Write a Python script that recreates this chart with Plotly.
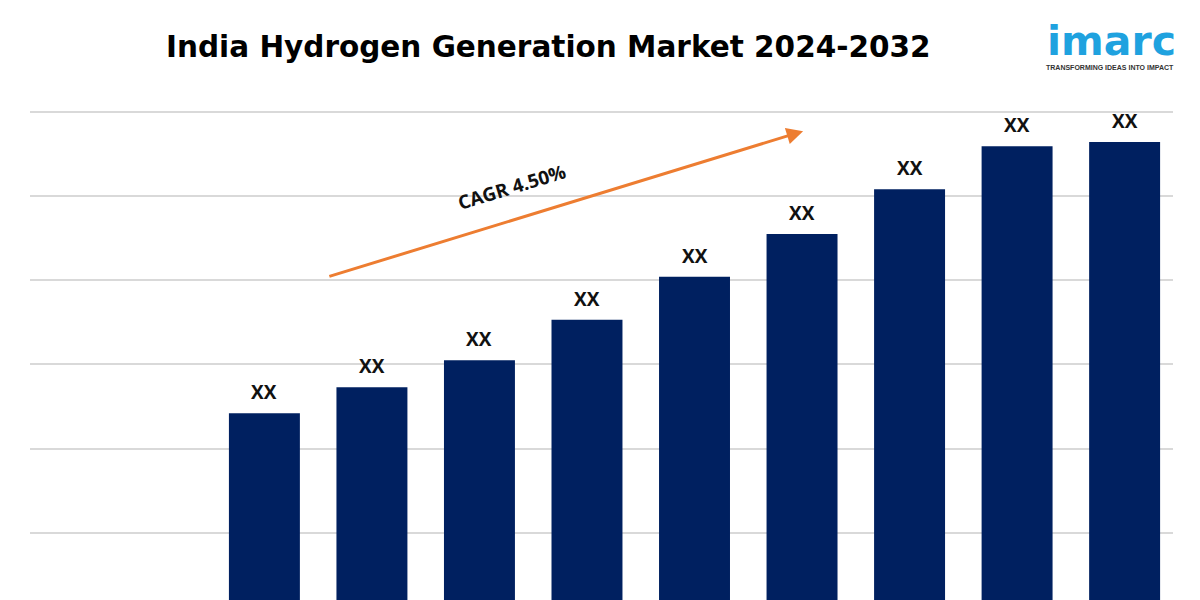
import plotly.graph_objects as go

years = ["2024", "2025", "2026", "2027", "2028", "2029", "2030", "2031", "2032"]
values = [2.42, 2.73, 3.05, 3.53, 4.04, 4.55, 5.08, 5.59, 5.64]
labels = ["XX"] * len(years)

title_text = "India Hydrogen Generation Market 2024-2032"
cagr_text = "CAGR 4.50%"
logo_text = "imarc"
tagline_text = "TRANSFORMING IDEAS INTO IMPACT"

BAR_COLOR = "#002060"
ARROW_COLOR = "#ED7D31"
LOGO_COLOR = "#1FA2DF"

W, H = 1200, 600
OFF = 8  # page body margin offset of the figure in the browser


def px(X, Y):
    """screen pixel -> paper coords (compensating the body margin)"""
    return (X - OFF) / W, 1 - (Y - OFF) / H


fig = go.Figure()
idx = list(range(len(years)))
fig.add_trace(go.Bar(
    x=idx, y=values, marker=dict(color=BAR_COLOR, line=dict(width=0)),
    width=0.66, hoverinfo="skip",
))

# value labels
for i, v, lab in zip(idx, values, labels):
    fig.add_annotation(x=i, y=v, text="<b>" + lab + "</b>", showarrow=False,
                       xanchor="center", yanchor="bottom", yshift=6,
                       font=dict(family="Open Sans", size=19, color="#111111"))

# CAGR arrow
fig.add_annotation(x=5.01, y=5.77, ax=0.59, ay=4.04, xref="x", yref="y",
                   axref="x", ayref="y", text="", showarrow=True,
                   arrowhead=2, arrowsize=1.1, arrowwidth=3, arrowcolor=ARROW_COLOR)
cx, cy = px(512, 187)
fig.add_annotation(x=cx, y=cy, xref="paper", yref="paper",
                   xanchor="center", yanchor="middle",
                   text="<b>" + cagr_text + "</b>", showarrow=False, textangle=-17,
                   font=dict(family="Open Sans", size=19, color="#111111"))

# Title
tx, ty = px(548, 47)
fig.add_annotation(x=tx, y=ty, xref="paper", yref="paper",
                   xanchor="center", yanchor="middle",
                   text="<b>" + title_text + "</b>", showarrow=False,
                   font=dict(family="DejaVu Sans", size=29.5, color="#000000"))

# Logo
lx, ly = px(1111, 41)
fig.add_annotation(x=lx, y=ly, xref="paper", yref="paper",
                   xanchor="center", yanchor="middle",
                   text="<b>" + logo_text + "</b>", showarrow=False,
                   font=dict(family="DejaVu Sans", size=41, color=LOGO_COLOR))
gx, gy = px(1110, 67)
fig.add_annotation(x=gx, y=gy, xref="paper", yref="paper",
                   xanchor="center", yanchor="middle",
                   text="<b>" + tagline_text + "</b>", showarrow=False,
                   font=dict(family="Liberation Sans", size=7, color="#333333"))

fig.update_layout(
    width=W, height=H,
    margin=dict(l=0, r=0, t=0, b=0),
    paper_bgcolor="white", plot_bgcolor="white",
    showlegend=False,
    xaxis=dict(domain=[(30 - OFF) / W, (1173 - OFF) / W], range=[-2.18, 8.45],
               showticklabels=False, showgrid=False, zeroline=False,
               showline=False, ticks=""),
    yaxis=dict(domain=[OFF / H, 1 - (100 - OFF) / H], range=[17 / 84.2, 517 / 84.2],
               dtick=1, tick0=0, showticklabels=False, showgrid=True,
               gridcolor="#D9D9D9", gridwidth=1.5, zeroline=False,
               showline=False, ticks=""),
)

fig.write_html("out.html")
